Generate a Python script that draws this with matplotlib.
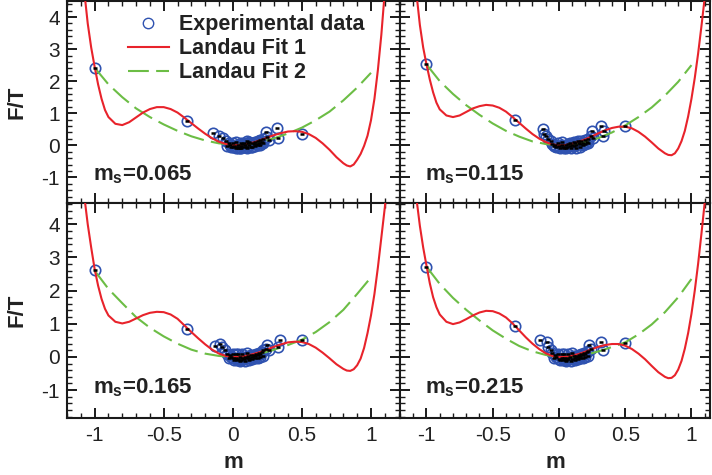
import numpy as np
import matplotlib
matplotlib.use('Agg')
import matplotlib.pyplot as plt
from matplotlib.ticker import MultipleLocator, FormatStrFormatter
from matplotlib.lines import Line2D

plt.rcParams['font.family'] = ['Liberation Sans', 'DejaVu Sans']
plt.rcParams['axes.unicode_minus'] = False
plt.rcParams['mathtext.fontset'] = 'custom'
plt.rcParams['mathtext.rm'] = 'Liberation Sans'
plt.rcParams['mathtext.bf'] = 'Liberation Sans:bold'

# strange quark masses, one per panel
ms_labels = ['0.065', '0.115', '0.165', '0.215']

# Landau Fit 1 (red)
fit1_m = [-1.1, -1.075, -1.05, -1.025, -1.0, -0.975, -0.95, -0.925, -0.9, -0.85,
          -0.8, -0.75, -0.7, -0.65, -0.6, -0.55, -0.5, -0.45, -0.4, -0.35,
          -0.3, -0.25, -0.2, -0.15, -0.1, -0.05, 0.0, 0.05, 0.1, 0.15,
          0.2, 0.25, 0.3, 0.35, 0.4, 0.45, 0.5, 0.55, 0.6, 0.65,
          0.7, 0.75, 0.8, 0.825, 0.85, 0.875, 0.9, 0.925, 0.95, 0.975,
          1.0, 1.025, 1.05, 1.075, 1.1, 1.125]
fit1_065 = [6.0, 4.8, 3.8, 3.05, 2.45, 1.9, 1.45, 1.1, 0.88, 0.67,
            0.63, 0.72, 0.87, 1.02, 1.13, 1.19, 1.19, 1.13, 1.02, 0.86,
            0.69, 0.52, 0.36, 0.22, 0.11, 0.04, 0.01, 0.01, 0.04, 0.09,
            0.16, 0.24, 0.32, 0.38, 0.43, 0.44, 0.42, 0.35, 0.23, 0.06,
            -0.14, -0.37, -0.56, -0.63, -0.66, -0.6, -0.45, -0.27, -0.02, 0.3,
            0.78, 1.45, 2.35, 3.45, 4.8, 6.3]
fit1_115 = [5.9, 4.7, 3.75, 3.05, 2.52, 2.05, 1.65, 1.33, 1.12, 0.93,
            0.88, 0.93, 1.04, 1.15, 1.22, 1.26, 1.24, 1.17, 1.05, 0.88,
            0.7, 0.52, 0.35, 0.21, 0.1, 0.03, 0.0, 0.01, 0.05, 0.11,
            0.19, 0.28, 0.38, 0.47, 0.54, 0.58, 0.58, 0.53, 0.42, 0.27,
            0.09, -0.1, -0.25, -0.3, -0.31, -0.25, -0.1, 0.13, 0.45, 0.9,
            1.45, 2.1, 2.85, 3.7, 4.6, 5.6]
fit1_165 = [6.0, 4.85, 4.0, 3.3, 2.65, 2.15, 1.75, 1.45, 1.25, 1.06,
            1.01, 1.06, 1.16, 1.26, 1.33, 1.36, 1.35, 1.28, 1.15, 0.95,
            0.75, 0.56, 0.38, 0.22, 0.1, 0.03, 0.0, 0.01, 0.04, 0.09,
            0.15, 0.23, 0.31, 0.38, 0.44, 0.46, 0.45, 0.39, 0.28, 0.13,
            -0.04, -0.22, -0.36, -0.41, -0.42, -0.37, -0.25, -0.05, 0.27, 0.72,
            1.25, 1.9, 2.7, 3.6, 4.5, 5.5]
fit1_215 = [5.7, 4.75, 3.95, 3.3, 2.75, 2.22, 1.8, 1.5, 1.28, 1.06,
            0.99, 1.04, 1.14, 1.25, 1.34, 1.39, 1.38, 1.31, 1.19, 1.01,
            0.8, 0.59, 0.4, 0.24, 0.11, 0.03, 0.0, 0.01, 0.04, 0.09,
            0.16, 0.24, 0.31, 0.36, 0.39, 0.39, 0.34, 0.24, 0.1, -0.07,
            -0.27, -0.46, -0.6, -0.64, -0.63, -0.55, -0.38, -0.12, 0.25, 0.72,
            1.3, 2.0, 2.8, 3.7, 4.65, 5.7]

# Landau Fit 2 (green dashed)
fit2_m = [-1.0, -0.9, -0.8, -0.7, -0.6, -0.5, -0.4, -0.3, -0.2, -0.1, 0.0,
          0.1, 0.2, 0.3, 0.4, 0.5, 0.6, 0.7, 0.8, 0.9, 1.0]
fit2_065 = [2.42, 1.9, 1.5, 1.15, 0.88, 0.65, 0.45, 0.28, 0.15, 0.06, 0.02,
            0.03, 0.1, 0.22, 0.37, 0.55, 0.78, 1.05, 1.4, 1.8, 2.26]
fit2_115 = [2.52, 2.0, 1.6, 1.25, 0.95, 0.68, 0.45, 0.27, 0.12, 0.04, 0.0,
            0.02, 0.1, 0.23, 0.4, 0.62, 0.88, 1.18, 1.55, 1.98, 2.5]
fit2_165 = [2.6, 2.05, 1.62, 1.2, 0.88, 0.62, 0.4, 0.22, 0.1, 0.03, 0.0,
            0.02, 0.1, 0.22, 0.36, 0.52, 0.75, 1.05, 1.42, 1.9, 2.4]
fit2_215 = [2.72, 2.2, 1.78, 1.42, 1.1, 0.8, 0.55, 0.33, 0.17, 0.06, 0.0,
            0.0, 0.06, 0.17, 0.3, 0.44, 0.68, 0.98, 1.35, 1.8, 2.35]

# experimental points
data_m_065 = [-1.0, -0.333, -0.14, -0.10, -0.07, -0.05, -0.03, -0.02, -0.01, 0.0, 0.01,
              0.02, 0.03, 0.04, 0.05, 0.06, 0.07, 0.08, 0.09, 0.10, 0.11, 0.12, 0.13,
              0.14, 0.15, 0.16, 0.17, 0.18, 0.19, 0.20, 0.21, 0.22, 0.24, 0.25, 0.26,
              0.32, 0.33, 0.5,
              -0.04, 0.0, 0.02, 0.04, 0.06, 0.06, 0.08, 0.10, 0.10, 0.12, 0.14, 0.16,
              0.18, 0.20, 0.22]
data_f_065 = [2.42, 0.77, 0.38, 0.30, 0.22, 0.12, 0.06, 0.02, -0.04, -0.06, -0.02,
              -0.08, -0.05, 0.02, -0.07, -0.03, 0.04, -0.06, 0.0, -0.05, 0.06, 0.0, -0.04,
              0.08, 0.03, 0.1, 0.05, 0.12, 0.08, 0.15, 0.1, 0.2, 0.4, 0.26, 0.18,
              0.55, 0.24, 0.36,
              -0.02, 0.08, 0.1, -0.1, 0.08, -0.09, 0.06, -0.1, 0.12, 0.1, -0.06, -0.02,
              0.0, 0.02, 0.06]
data_m_115 = [-1.0, -0.333, -0.12, -0.11, -0.10, -0.08, -0.06, -0.05, -0.03, -0.02, 0.0,
              0.01, 0.02, 0.03, 0.05, 0.06, 0.07, 0.08, 0.1, 0.11, 0.12, 0.13, 0.15,
              0.16, 0.17, 0.18, 0.2, 0.21, 0.22, 0.24, 0.25, 0.26, 0.32, 0.33, 0.34,
              0.5,
              -0.04, -0.01, 0.02, 0.04, 0.05, 0.08, 0.09, 0.11, 0.13, 0.14, 0.16,
              0.18, 0.2, 0.22]
data_f_115 = [2.52, 0.79, 0.5, 0.34, 0.28, 0.2, 0.12, 0.05, 0.02, -0.05, -0.02,
              -0.08, 0.0, -0.06, 0.02, -0.04, 0.03, -0.03, 0.02, -0.02, 0.06, 0.0, 0.08,
              0.04, 0.12, 0.06, 0.15, 0.1, 0.2, 0.3, 0.44, 0.22, 0.6, 0.3, 0.45,
              0.6,
              -0.02, 0.08, 0.1, -0.1, -0.09, 0.08, -0.1, 0.1, -0.08, 0.12, -0.04,
              0.0, 0.04, 0.08]
data_m_165 = [-1.0, -0.333, -0.13, -0.09, -0.08, -0.06, -0.04, -0.02, -0.01, 0.0, 0.01,
              0.02, 0.03, 0.04, 0.05, 0.06, 0.07, 0.08, 0.09, 0.1, 0.11, 0.12, 0.13,
              0.14, 0.15, 0.16, 0.17, 0.18, 0.19, 0.2, 0.21, 0.22, 0.24, 0.25, 0.26,
              0.33, 0.34, 0.5,
              -0.03, 0.0, 0.02, 0.04, 0.05, 0.07, 0.09, 0.1, 0.12, 0.14, 0.16,
              0.18, 0.2, 0.22]
data_f_165 = [2.62, 0.85, 0.32, 0.4, 0.3, 0.2, 0.1, 0.06, 0.0, -0.04, -0.08,
              -0.02, -0.1, -0.05, 0.0, -0.08, -0.03, -0.06, 0.0, -0.04, 0.03, -0.02, 0.05,
              0.0, 0.06, 0.02, 0.1, 0.05, 0.12, 0.08, 0.14, 0.2, 0.25, 0.35, 0.22,
              0.3, 0.5, 0.5,
              -0.02, 0.08, 0.1, 0.08, -0.12, 0.1, -0.11, 0.12, -0.09, -0.07, -0.04,
              -0.02, 0.0, 0.04]
data_m_215 = [-1.0, -0.333, -0.14, -0.09, -0.08, -0.06, -0.05, -0.03, -0.02, 0.0, 0.01,
              0.02, 0.03, 0.04, 0.05, 0.06, 0.07, 0.08, 0.1, 0.11, 0.12, 0.13, 0.14,
              0.15, 0.16, 0.17, 0.18, 0.19, 0.2, 0.21, 0.22, 0.23, 0.24, 0.32, 0.33,
              0.5,
              -0.04, -0.01, 0.02, 0.04, 0.05, 0.07, 0.09, 0.1, 0.12, 0.14, 0.16,
              0.18, 0.2, 0.22]
data_f_215 = [2.72, 0.93, 0.5, 0.45, 0.3, 0.22, 0.12, 0.06, 0.0, -0.06, -0.1,
              -0.03, -0.08, -0.04, -0.1, -0.02, -0.07, 0.0, -0.05, 0.02, -0.04, 0.04, 0.0,
              0.06, 0.02, 0.09, 0.05, 0.11, 0.08, 0.14, 0.18, 0.35, 0.25, 0.45, 0.2,
              0.42,
              -0.02, 0.08, 0.1, 0.08, -0.12, 0.1, -0.11, 0.12, -0.09, -0.07, -0.04,
              -0.02, 0.0, 0.04]

panels = [
    (ms_labels[0], fit1_065, fit2_065, data_m_065, data_f_065),
    (ms_labels[1], fit1_115, fit2_115, data_m_115, data_f_115),
    (ms_labels[2], fit1_165, fit2_165, data_m_165, data_f_165),
    (ms_labels[3], fit1_215, fit2_215, data_m_215, data_f_215),
]

RED = '#e8232b'
GREEN = '#6cbd45'
BLUE = '#2f52b0'

W, H = 712, 475
fig = plt.figure(figsize=(W / 100, H / 100), dpi=100)

# pixel boxes (left, top, right, bottom) measured on the reference
boxes = [(67, 1, 400, 203), (400, 1, 710, 203),
         (67, 203, 400, 418), (400, 203, 710, 418)]
xlims = [(-1.2, 1.21), (-1.2, 1.14), (-1.2, 1.21), (-1.2, 1.14)]
ylims = [(-1.8, 4.5), (-1.8, 4.5), (-1.84, 4.64), (-1.84, 4.64)]

axes = []
for i, (name, f1, f2, dm, df) in enumerate(panels):
    l, t, r, b = boxes[i]
    ax = fig.add_axes([l / W, 1 - b / H, (r - l) / W, (b - t) / H])
    axes.append(ax)

    ax.plot(dm, df, 'o', ms=7.5, mfc='none', mec=BLUE, mew=1.2, zorder=2)
    ax.plot(fit2_m, f2, color=GREEN, lw=1.5, dashes=(10, 3.5), zorder=3)
    ax.plot(fit1_m, f1, color=RED, lw=1.5, zorder=4)
    ax.plot(dm, df, '_', ms=3.5, mec='black', mew=1.8, zorder=5)

    ax.set_xlim(*xlims[i])
    ax.set_ylim(*ylims[i])
    ax.xaxis.set_major_locator(MultipleLocator(0.5))
    ax.xaxis.set_minor_locator(MultipleLocator(0.1))
    ax.yaxis.set_major_locator(MultipleLocator(1))
    ax.yaxis.set_minor_locator(MultipleLocator(0.2))
    ax.xaxis.set_major_formatter(FormatStrFormatter('%g'))
    ax.yaxis.set_major_formatter(FormatStrFormatter('%g'))
    ax.tick_params(which='both', direction='in', top=True, right=True,
                   color='#1a1a1a', labelsize=15, labelcolor='#222222')
    ax.tick_params(which='major', length=7, width=1.4, pad=5)
    ax.tick_params(which='minor', length=3.8, width=1.0)
    ax.tick_params(axis='x', which='major', pad=6)
    for s in ax.spines.values():
        s.set_linewidth(1.5)
        s.set_color('#1a1a1a')

    ax.text(-1.01, -1.1, 'm$_\\mathbf{s}$=' + name, fontsize=16, fontweight='bold',
            color='#222222', ha='left', va='baseline')

    if i % 2 == 0:
        ax.set_ylabel('F/T', fontsize=16, fontweight='bold', color='#222222')
        ax.yaxis.set_label_coords(-0.12, 0.5)
    else:
        ax.tick_params(labelleft=False)
    if i >= 2:
        ax.set_xlabel('m', fontsize=16, fontweight='bold', color='#222222')
        ax.xaxis.set_label_coords(0.5, -0.16)
    else:
        ax.tick_params(labelbottom=False)

handles = [
    Line2D([], [], ls='none', marker='o', ms=7.5, mfc='none', mec=BLUE, mew=1.0),
    Line2D([], [], color=RED, lw=1.5),
    Line2D([], [], color=GREEN, lw=1.5, dashes=(10, 3.5)),
]
axes[0].legend(handles, ['Experimental data', 'Landau Fit 1', 'Landau Fit 2'],
               loc='upper left', bbox_to_anchor=(0.17, 0.955), frameon=False,
               prop={'size': 15.5, 'weight': 'bold'}, handlelength=1.9,
               handletextpad=0.45, labelspacing=0.14, borderpad=0.2,
               borderaxespad=0, numpoints=1)
for txt in axes[0].get_legend().get_texts():
    txt.set_color('#222222')

fig.savefig('out.png', dpi=100)
